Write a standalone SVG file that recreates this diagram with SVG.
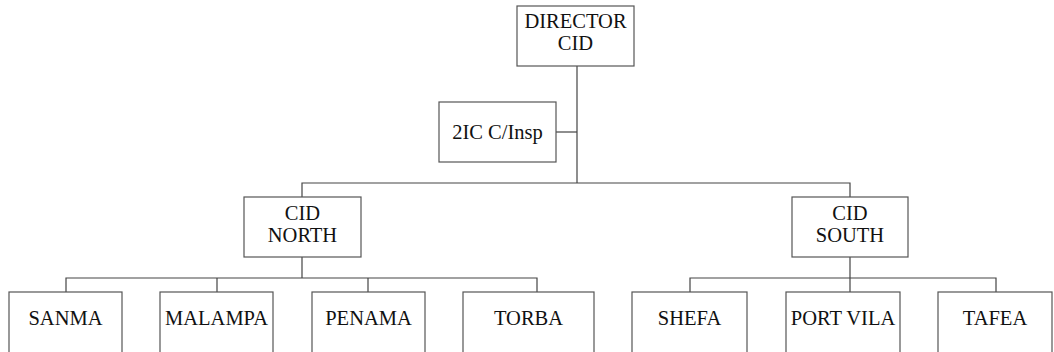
<svg xmlns="http://www.w3.org/2000/svg" width="1054" height="352" viewBox="0 0 1054 352">
<style>
rect{fill:#fff;stroke:#555;stroke-width:1.2}
text{font-family:"Liberation Serif","Times New Roman",serif;font-size:20.5px;fill:#111;text-anchor:middle}
.c line,.c polyline{stroke:#444;stroke-width:1.2;fill:none}
</style>
<rect x="0" y="0" width="1054" height="352" style="stroke:none"/>
<g class="c" id="connectors">
<line x1="577" y1="66" x2="577" y2="183"/>
<line x1="556" y1="132" x2="577" y2="132"/>
<polyline points="302,197 302,183 850,183 850,197"/>
<line x1="302" y1="257" x2="302" y2="278"/>
<polyline points="66,292 66,278 537,278 537,292"/>
<line x1="217" y1="278" x2="217" y2="292"/>
<line x1="368" y1="278" x2="368" y2="292"/>
<line x1="850" y1="257" x2="850" y2="292"/>
<polyline points="690,292 690,278 996,278 996,292"/>
</g>
<g id="director"><rect x="517" y="6" width="117" height="60"/><text x="575.5" y="28">DIRECTOR</text><text x="575.5" y="50">CID</text></g>
<g id="2ic"><rect x="439" y="102" width="117" height="60"/><text x="497.5" y="139">2IC C/Insp</text></g>
<g id="cid-north"><rect x="244" y="197" width="117" height="60"/><text x="302.5" y="220">CID</text><text x="302.5" y="242">NORTH</text></g>
<g id="cid-south"><rect x="792" y="197" width="116" height="60"/><text x="850" y="220">CID</text><text x="850" y="242">SOUTH</text></g>
<g id="sanma"><rect x="9" y="292" width="113" height="70"/><text x="65.5" y="325">SANMA</text></g>
<g id="malampa"><rect x="160" y="292" width="113" height="70"/><text x="216.5" y="325">MALAMPA</text></g>
<g id="penama"><rect x="312" y="292" width="113" height="70"/><text x="368.5" y="325">PENAMA</text></g>
<g id="torba"><rect x="463" y="292" width="131" height="70"/><text x="528.5" y="325">TORBA</text></g>
<g id="shefa"><rect x="632" y="292" width="115" height="70"/><text x="689.5" y="325">SHEFA</text></g>
<g id="port-vila"><rect x="786" y="292" width="114" height="70"/><text x="843" y="325">PORT VILA</text></g>
<g id="tafea"><rect x="938" y="292" width="114" height="70"/><text x="995" y="325">TAFEA</text></g>
</svg>
